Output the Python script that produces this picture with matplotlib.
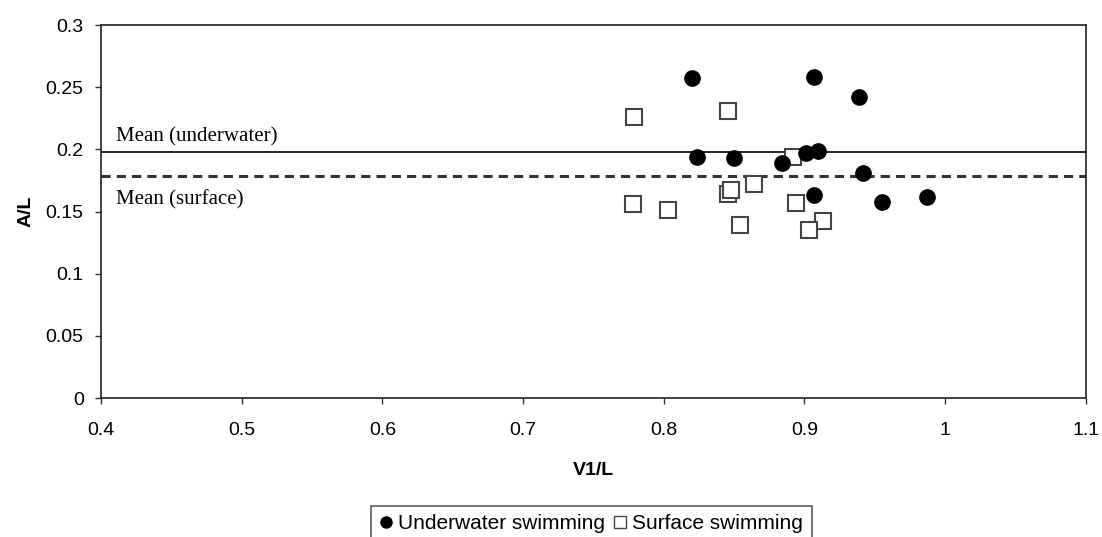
import matplotlib
matplotlib.use("Agg")
import matplotlib.pyplot as plt
from matplotlib.lines import Line2D

plt.rcParams['font.family'] = ['Liberation Sans', 'DejaVu Sans']

# Underwater swimming (filled circles)
under_x = [0.820, 0.907, 0.939, 0.824, 0.850, 0.884, 0.901, 0.910, 0.942, 0.907, 0.955, 0.987]
under_y = [0.257, 0.258, 0.242, 0.194, 0.193, 0.189, 0.197, 0.199, 0.181, 0.163, 0.158, 0.162]

# Surface swimming (open squares)
surf_x = [0.779, 0.846, 0.892, 0.864, 0.846, 0.848, 0.778, 0.803, 0.894, 0.854, 0.913, 0.903]
surf_y = [0.226, 0.231, 0.194, 0.172, 0.164, 0.167, 0.156, 0.151, 0.157, 0.139, 0.142, 0.135]

mean_under = 0.1977
mean_surf = 0.1788

x_ticks = [0.4, 0.5, 0.6, 0.7, 0.8, 0.9, 1.0, 1.1]
x_tick_labels = ['0.4', '0.5', '0.6', '0.7', '0.8', '0.9', '1', '1.1']
y_ticks = [0, 0.05, 0.1, 0.15, 0.2, 0.25, 0.3]
y_tick_labels = ['0', '0.05', '0.1', '0.15', '0.2', '0.25', '0.3']

fig = plt.figure(figsize=(11.02, 5.37), dpi=100)
ax = fig.add_axes([0.0917, 0.2588, 0.8935, 0.6946])

ax.axhline(mean_under, color='black', lw=1.2, zorder=1)
ax.axhline(mean_surf, color='#333333', lw=2.2, ls=(0, (3, 2)), zorder=1)

ax.plot(surf_x, surf_y, ls='none', marker='s', ms=11, mfc='white',
        mec='#444444', mew=1.5, zorder=2)
ax.plot(under_x, under_y, ls='none', marker='o', ms=11, mfc='black',
        mec='black', zorder=3)

ax.text(0.4107, 0.2100, 'Mean (underwater)', family='Liberation Serif',
        fontsize=15, va='center', ha='left')
ax.text(0.4107, 0.1595, 'Mean (surface)', family='Liberation Serif',
        fontsize=15, va='center', ha='left')

ax.set_xlim(0.4, 1.1)
ax.set_ylim(0, 0.3)
ax.set_xticks(x_ticks)
ax.set_xticklabels(x_tick_labels)
ax.set_yticks(y_ticks)
ax.set_yticklabels(y_tick_labels)
ax.tick_params(direction='out', length=4.5, width=1, labelsize=14, color='#333333')
ax.tick_params(axis='x', pad=13)
ax.tick_params(axis='y', pad=8)
for s in ax.spines.values():
    s.set_linewidth(1.2)
    s.set_color('#222222')

ax.set_xlabel('V1/L', fontsize=14, fontweight='bold', labelpad=16)
ax.set_ylabel('A/L', fontsize=14, fontweight='bold', labelpad=8)

handles = [
    Line2D([], [], ls='none', marker='o', ms=8, mfc='black', mec='black'),
    Line2D([], [], ls='none', marker='s', ms=8, mfc='white', mec='#444444', mew=1),
]
leg = fig.legend(handles, ['Underwater swimming', 'Surface swimming'],
                 loc='upper center', bbox_to_anchor=(0.5367, 0.0577), ncol=2,
                 fontsize=15, frameon=True, fancybox=False, edgecolor='#333333',
                 handlelength=0.6, handletextpad=0.3, columnspacing=0.4,
                 borderpad=0.4, borderaxespad=0)
leg.get_frame().set_linewidth(1.2)

fig.savefig('out.png', dpi=100)
